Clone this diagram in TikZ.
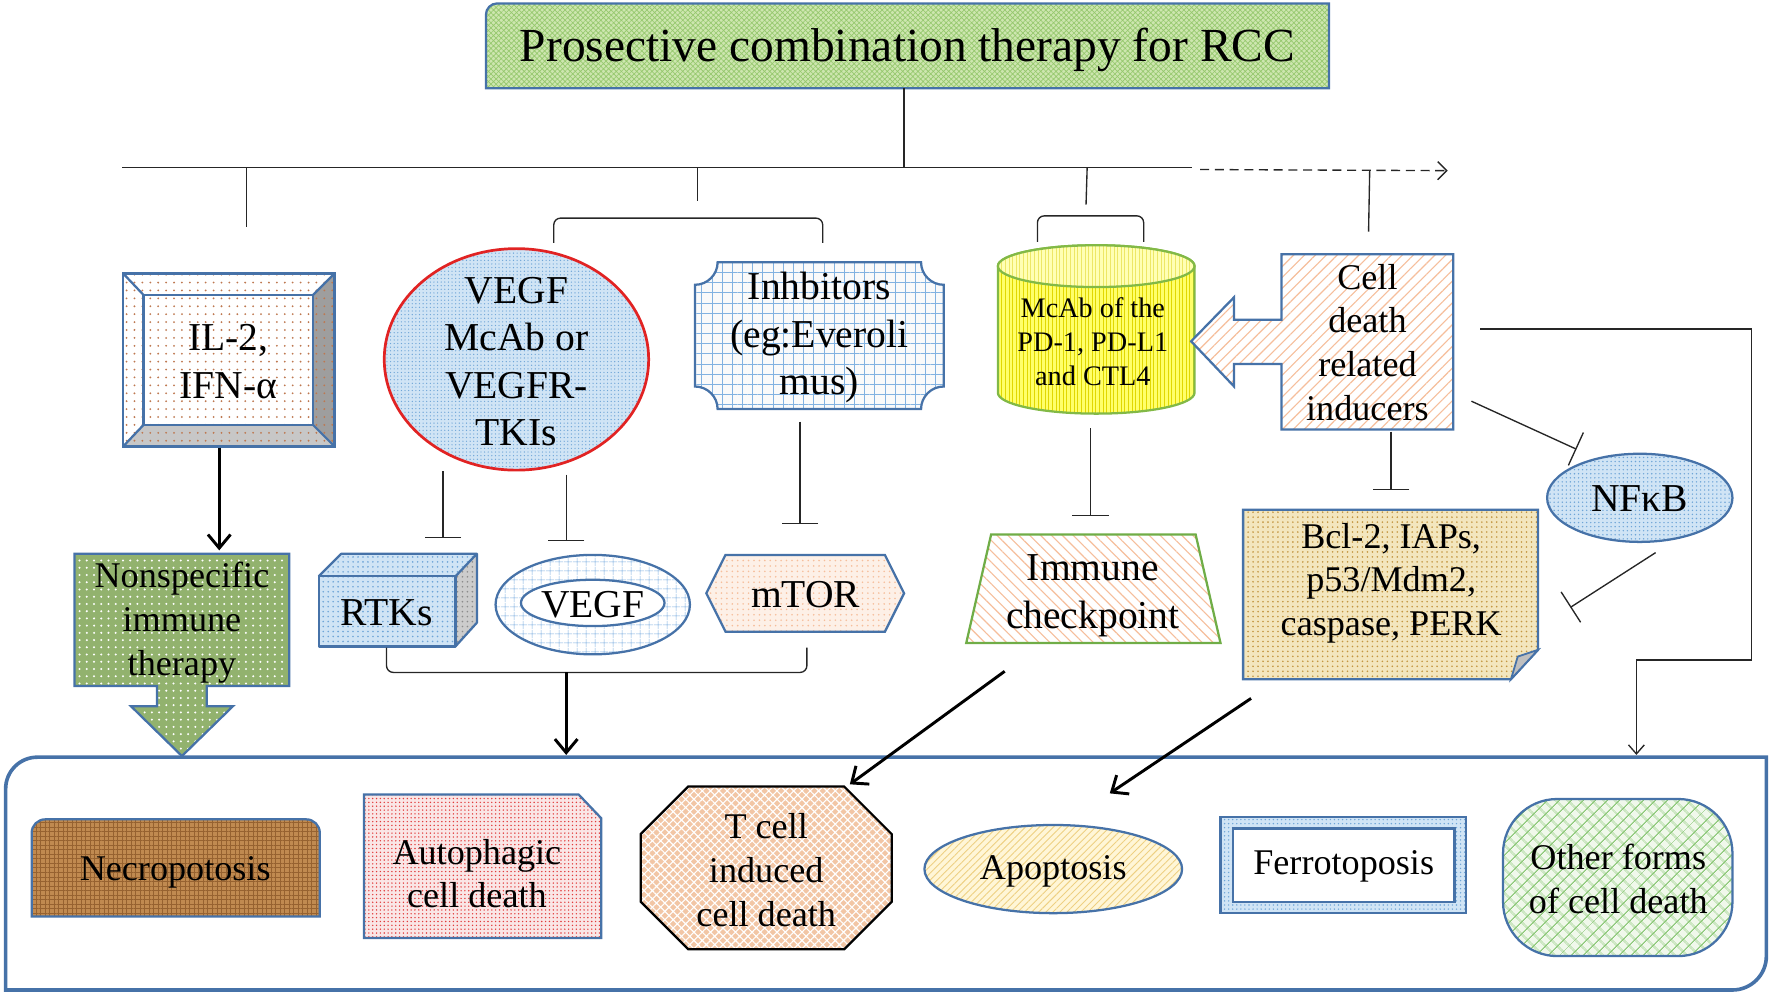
\documentclass[tikz,border=0pt]{standalone}
\usepackage{fontspec}
\setmainfont{Liberation Serif}
\usetikzlibrary{patterns.meta,arrows.meta}
\definecolor{bdr}{RGB}{70,114,168}
\definecolor{titleg}{RGB}{205,230,175}
\definecolor{titlegd}{RGB}{150,200,110}
\definecolor{dotbrown}{RGB}{190,120,80}
\definecolor{ltblue}{RGB}{208,228,245}
\definecolor{midblue}{RGB}{110,165,215}
\definecolor{gridblue}{RGB}{130,178,225}
\definecolor{cylyel}{RGB}{255,255,105}
\definecolor{cylyeltop}{RGB}{255,255,180}
\definecolor{cyldark}{RGB}{225,215,0}
\definecolor{cylgreen}{RGB}{130,185,70}
\definecolor{salmon}{RGB}{246,190,155}
\definecolor{nsgreen}{RGB}{146,178,110}
\definecolor{mtorbg}{RGB}{253,240,231}
\definecolor{bclbg}{RGB}{243,230,190}
\definecolor{bcldot}{RGB}{195,150,65}
\definecolor{necrobg}{RGB}{192,138,80}
\definecolor{necrodk}{RGB}{150,98,48}
\definecolor{autobg}{RGB}{250,230,230}
\definecolor{autodot}{RGB}{225,60,60}
\definecolor{tcellbg}{RGB}{242,198,165}
\definecolor{apobg}{RGB}{255,246,215}
\definecolor{apoln}{RGB}{238,208,130}
\definecolor{othbg}{RGB}{240,248,235}
\definecolor{othln}{RGB}{140,200,120}
\definecolor{redline}{RGB}{225,35,35}
\definecolor{igreen}{RGB}{112,173,71}
\begin{document}
\begin{tikzpicture}[x=0.5pt,y=-0.5pt,
  t16/.style={font=\fontsize{16}{19.3}\selectfont,align=center,inner sep=0pt},
  t17/.style={font=\fontsize{17.5}{21}\selectfont,align=center,inner sep=0pt},
  t12/.style={font=\fontsize{12.5}{15}\selectfont,align=center,inner sep=0pt},
  ln/.style={line width=0.6pt,draw=black!85},
  tee/.style={ln,-{Bar[width=16pt,line width=0.6pt]}},
  tk/.style={line width=1.3pt,-{Straight Barb[length=6pt,width=10pt,line width=1.3pt]}},
  thinarr/.style={ln,-{Straight Barb[length=4pt,width=7pt,line width=0.6pt]}},
  sb/.style={draw=bdr,line width=1pt},
  pdots/.style={pattern={Dots[radius=0.4pt,distance=2.2pt]}},
  pdotsw/.style={pattern={Dots[radius=0.5pt,distance=3.2pt]}},
  pdotsb/.style={pattern={Dots[radius=0.45pt,distance=3.5pt]}},
]
\useasboundingbox (0,0) rectangle (1568,880);

% ---------- title ----------
\path[preaction={fill=titleg},pattern={Hatch[angle=45,distance=1.6pt,line width=0.3pt]},pattern color=titlegd,sb]
  (430,78) -- (430,13) arc[start angle=180,end angle=270,radius=10] -- (1176,3) -- (1176,78) -- cycle;
\node[font=\fontsize{21}{25}\selectfont,inner sep=0pt] (title) at (803,44) {Prosective combination therapy for RCC};

% ---------- tree lines ----------
\coordinate (tTop) at (800,78);
\coordinate (tMid) at (800,148);
\coordinate (hL) at (108,148);
\coordinate (hR) at (1055,148);
\coordinate (dS) at (1062,150);
\coordinate (dE) at (1281,151);
\draw[ln] (tTop) -- (tMid);
\draw[ln] (hL) -- (hR);
\draw[ln,dash pattern=on 4pt off 2.5pt,-{Straight Barb[length=4pt,width=8pt,line width=0.6pt]}] (dS) -- (dE);
\coordinate (d1a) at (218,148); \coordinate (d1b) at (218,201);
\coordinate (d2a) at (617,148); \coordinate (d2b) at (617,178);
\coordinate (d3a) at (962,148); \coordinate (d3b) at (961,181);
\coordinate (d4a) at (1212,151); \coordinate (d4b) at (1211,205);
\draw[ln] (d1a) -- (d1b);
\draw[ln] (d2a) -- (d2b);
\draw[ln] (d3a) -- (d3b);
\draw[ln] (d4a) -- (d4b);
\coordinate (b1l) at (490,215); \coordinate (b1r) at (728,215);
\draw[ln,rounded corners=3] (b1l) -- (490,193) -- (728,193) -- (b1r);
\coordinate (b2l) at (918,214); \coordinate (b2r) at (1012,214);
\draw[ln,rounded corners=3] (b2l) -- (918,191) -- (1012,191) -- (b2r);

% ---------- IL-2 bevel ----------
\path[preaction={fill=white},pdotsb,pattern color=dotbrown] (109,242) rectangle (296,395);
\path[preaction={fill=black!22},pdotsb,pattern color=dotbrown] (109,395) -- (296,395) -- (277,376) -- (127,376) -- cycle;
\path[preaction={fill=black!38},pdotsb,pattern color=dotbrown] (296,242) -- (296,395) -- (277,376) -- (277,261) -- cycle;
\draw[sb] (109,242) rectangle (296,395);
\draw[sb] (127,261) rectangle (277,376);
\draw[sb] (109,242) -- (127,261) (296,242) -- (277,261) (109,395) -- (127,376) (296,395) -- (277,376);
\node[t17] (il2) at (202,320) {IL-2,\\IFN-α};

% ---------- VEGF McAb circle ----------
\path[preaction={fill=ltblue},pattern={Dots[radius=0.3pt,distance=1.6pt]},pattern color=midblue,draw=redline,line width=1.2pt]
  (457,318) ellipse[x radius=117,y radius=98];
\node[t17] (vegfmcab) at (457,320) {VEGF\\McAb or\\VEGFR-\\TKIs};

% ---------- Inhibitors plaque ----------
\path[preaction={fill=black!2!white},pattern={Hatch[angle=0,distance=4.5pt,line width=0.3pt]},pattern color=gridblue,sb]
  (635,232) -- (815,232) .. controls (815,243) and (824,252) .. (835,252)
  -- (835,342) .. controls (824,342) and (815,351) .. (815,362)
  -- (635,362) .. controls (635,351) and (626,342) .. (615,342)
  -- (615,252) .. controls (626,252) and (635,243) .. (635,232) -- cycle;
\node[t17] (inhib) at (725,299) {Inhbitors\\(eg:Everoli\\mus)};

% ---------- cylinder ----------
\path[preaction={fill=cylyel},pattern={Lines[angle=90,distance=1.6pt,line width=0.35pt]},pattern color=cyldark,draw=cylgreen,line width=1pt]
  (883,235.5) -- (883,347.5) arc[start angle=180,end angle=0,x radius=87,y radius=18.5]
  -- (1057,235.5) arc[start angle=0,end angle=-180,x radius=87,y radius=18.5] -- cycle;
\path[preaction={fill=cylyeltop},pattern={Lines[angle=90,distance=1.6pt,line width=0.3pt]},pattern color=cyldark!60,draw=cylgreen,line width=1pt]
  (970,235.5) ellipse[x radius=87,y radius=18.5];
\node[t12] (mcab) at (967,302) {McAb of the\\PD-1, PD-L1\\and CTL4};

% ---------- cell death left arrow ----------
\path[preaction={fill=white},pattern={Lines[angle=45,distance=3.4pt,line width=0.5pt]},pattern color=salmon,sb]
  (1134,225) -- (1286,225) -- (1286,380) -- (1134,380) -- (1134,322) -- (1092,322) -- (1092,342)
  -- (1054,302) -- (1092,263) -- (1092,283) -- (1134,283) -- cycle;
\node[t16] (celldeath) at (1210,303) {Cell\\death\\related\\inducers};

% ---------- NFkB ----------
\path[preaction={fill=ltblue},pattern={Dots[radius=0.35pt,distance=1.8pt]},pattern color=midblue,sb]
  (1451,440.5) ellipse[x radius=82,y radius=39];
\node[t17] (nfkb) at (1451,441) {NFκB};

% ---------- Nonspecific arrow ----------
\path[preaction={fill=nsgreen},pdotsw,pattern color=white,sb]
  (66,490) -- (256,490) -- (256,607) -- (183,607) -- (183,625) -- (206,625) -- (161,669)
  -- (116,625) -- (139,625) -- (139,607) -- (66,607) -- cycle;
\node[t16] (nonspec) at (161,551) {Nonspecific\\immune\\therapy};

% ---------- RTKs cube ----------
\path[preaction={fill=ltblue},pdots,pattern color=midblue] (282,510) rectangle (403,572);
\path[preaction={fill=ltblue},pdots,pattern color=midblue] (282,510) -- (302,490) -- (422,490) -- (403,510) -- cycle;
\path[preaction={fill=black!20},pdots,pattern color=black!45] (403,510) -- (422,490) -- (422,551) -- (403,572) -- cycle;
\draw[sb,line join=round] (282,510) rectangle (403,572);
\draw[sb,line join=round] (282,510) -- (302,490) -- (422,490) -- (422,551) -- (403,572) (403,510) -- (422,490);
\node[t17] (rtks) at (342,542) {RTKs};

% ---------- VEGF ----------
\path[preaction={fill=white},pattern={Hatch[angle=0,distance=4pt,line width=0.3pt]},pattern color=gridblue,sb]
  (524.5,535) ellipse[x radius=86,y radius=44];
\path[fill=white,sb] (524.5,533.5) ellipse[x radius=63.5,y radius=20.5];
\node[t17] (vegf) at (524.5,535) {VEGF};

% ---------- mTOR ----------
\path[preaction={fill=mtorbg},pattern={Dots[radius=0.4pt,distance=2.4pt]},pattern color=salmon,sb]
  (625,525) -- (642,491) -- (783,491) -- (800,525) -- (783,559) -- (642,559) -- cycle;
\node[t17] (mtor) at (713,526) {mTOR};

% ---------- tee connectors ----------
\coordinate (vm1) at (392,417); \coordinate (rtT) at (392,476);
\coordinate (vm2) at (501,420); \coordinate (veT) at (501,479);
\coordinate (inB) at (708,373); \coordinate (mtT) at (708,464);
\coordinate (cyB) at (965,379); \coordinate (imT) at (965,457);
\coordinate (cdB) at (1231,382); \coordinate (bcT) at (1231,434);
\coordinate (cdR) at (1302,355); \coordinate (nfT) at (1395,397.5);
\coordinate (nfB) at (1465,489); \coordinate (bcR) at (1389.5,537.5);
\draw[tee] (vm1) -- (rtT);
\draw[tee] (vm2) -- (veT);
\draw[tee] (inB) -- (mtT);
\draw[tee] (cyB) -- (imT);
\draw[tee] (cdB) -- (bcT);
\draw[tee] (cdR) -- (nfT);
\draw[tee] (nfB) -- (bcR);

% ---------- Immune checkpoint ----------
\path[preaction={fill=white},pattern={Lines[angle=-45,distance=3.4pt,line width=0.5pt]},pattern color=salmon,draw=igreen,line width=1pt]
  (877,473) -- (1058,473) -- (1080,569) -- (855,569) -- cycle;
\node[t17] (immune) at (967,527) {Immune\\checkpoint};

% ---------- Bcl-2 folded ----------
\path[preaction={fill=bclbg},pattern={Dots[radius=0.4pt,distance=2.2pt]},pattern color=bcldot,sb]
  (1100,451) -- (1361,451) -- (1361,575) -- (1337,601) -- (1100,601) -- cycle;
\path[fill=black!25,sb,line width=0.8pt] (1361,575) -- (1337,601) -- (1343,581) -- cycle;
\node[t16] (bcl) at (1231,516) {Bcl-2, IAPs,\\p53/Mdm2,\\caspase, PERK};

% ---------- lower bracket ----------
\coordinate (brL) at (342,573); \coordinate (brR) at (714,573);
\coordinate (brM) at (501,595); \coordinate (cTop1) at (501,668);
\draw[ln,rounded corners=3] (brL) -- (342,595) -- (714,595) -- (brR);
\draw[tk] (brM) -- (cTop1);
\coordinate (il2b) at (194,396); \coordinate (nsT) at (194,487);
\draw[tk] (il2b) -- (nsT);

% ---------- container ----------
\draw[draw=bdr,line width=1.6pt]
  (5,876) -- (5,698) arc[start angle=180,end angle=270,radius=28] -- (1563,670)
  -- (1563,846) arc[start angle=0,end angle=90,radius=30] -- cycle;

% ---------- bottom nodes ----------
\path[preaction={fill=necrobg},pattern={Hatch[angle=0,distance=2pt,line width=0.4pt]},pattern color=necrodk,sb]
  (28,811) -- (28,737) arc[start angle=180,end angle=270,radius=12] -- (271,725)
  arc[start angle=270,end angle=360,radius=12] -- (283,811) -- cycle;
\node[t16] (necro) at (155,772) {Necropotosis};

\path[preaction={fill=autobg},pattern={Dots[radius=0.35pt,distance=1.7pt]},pattern color=autodot,sb]
  (322,703) -- (512,703) -- (532,724) -- (532,830) -- (322,830) -- cycle;
\node[t16] (autoph) at (422,773) {Autophagic\\cell death};

\path[preaction={fill=tcellbg},pattern={Hatch[angle=45,distance=2.6pt,line width=0.5pt]},pattern color=white,draw=black,line width=1pt]
  (609,696) -- (747,696) -- (789,738) -- (789,798) -- (747,840) -- (609,840) -- (567,798) -- (567,738) -- cycle;
\node[t16] (tcell) at (678,770) {T cell\\induced\\cell death};

\path[preaction={fill=apobg},pattern={Lines[angle=45,distance=2.2pt,line width=0.4pt]},pattern color=apoln,sb]
  (932,769) ellipse[x radius=114,y radius=39];
\node[t16] (apopt) at (932,771) {Apoptosis};

\path[preaction={fill=ltblue},pattern={Dots[radius=0.35pt,distance=1.8pt]},pattern color=midblue,sb]
  (1080,723) rectangle (1297,808);
\path[fill=white,sb] (1091,733) rectangle (1287,798);
\node[t16] (ferro) at (1189,767) {Ferrotoposis};

\path[preaction={fill=othbg},pattern={Hatch[angle=45,distance=4pt,line width=0.5pt]},pattern color=othln,sb,rounded corners=24]
  (1330,707) rectangle (1533,846);
\node[t16] (other) at (1432,778) {Other forms\\of cell death};

% ---------- arrows into container ----------
\coordinate (imA) at (889,594); \coordinate (tcA) at (752,694);
\draw[tk] (imA) -- (tcA);
\coordinate (bcA) at (1107,618); \coordinate (apA) at (982,702);
\draw[tk] (bcA) -- (apA);
\coordinate (cdE) at (1310,291); \coordinate (otA) at (1448,668);
\draw[thinarr] (cdE) -- (1550,291) -- (1550,584) -- (1448,584) -- (otA);
\end{tikzpicture}
\end{document}
